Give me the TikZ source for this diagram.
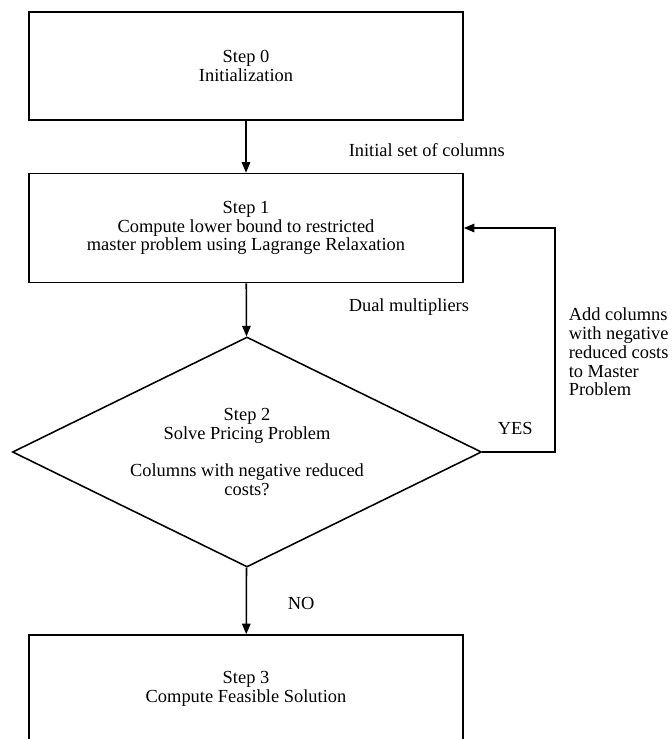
\documentclass[tikz,border=0pt]{standalone}
\usepackage{fontspec}
\setmainfont{Liberation Serif}
\usetikzlibrary{shapes.geometric,arrows.meta}

\begin{document}
\begin{tikzpicture}[x=0.025cm, y=-0.025cm, line width=1.1pt,
    >={Triangle[width=6pt,length=7.5pt]},
    font=\fontsize{13.1}{13.4}\selectfont,
    stepbox/.style={draw, rectangle, minimum width=10.85cm, minimum height=2.7cm, align=center},
    decision/.style={draw, diamond, aspect=2.04, inner sep=0pt, minimum width=11.725cm, minimum height=5.75cm, align=center},
    lbl/.style={anchor=west, inner sep=0pt, align=left}]
    \path[use as bounding box, clip] (0,0) rectangle (672,739);

    % Nodes
    \node[stepbox] (step0) at (246,66) {Step 0\\Initialization};
    \node[stepbox, minimum height=2.725cm] (step1) at (246,228) {Step 1\\Compute lower bound to restricted\\master problem using Lagrange Relaxation};
    \node[decision] (step2) at (247,452) {Step 2\\Solve Pricing Problem\\[13.4pt]Columns with negative reduced\\costs?};
    \node[stepbox] (step3) at (246,689) {Step 3\\Compute Feasible Solution};

    % Labels
    \node[lbl] (initcols) at (348,150) {Initial set of columns};
    \node[lbl] (dualmult) at (348,307) {Dual multipliers};
    \node[lbl] (yes) at (497,428) {YES};
    \node[lbl] (no) at (287,603) {NO};
    \node[lbl] (addcols) at (568,352) {Add columns\\with negative\\reduced costs\\to Master\\Problem};
    \coordinate (loop) at (555,228);

    % Arrows
    \draw[->] (step0) -- (step1);
    \draw[->] (step1) -- (step2);
    \draw[->] (step2) -- (step3);
    \draw[->] (step2.east) -| (loop) -- (step1.east);
\end{tikzpicture}
\end{document}
